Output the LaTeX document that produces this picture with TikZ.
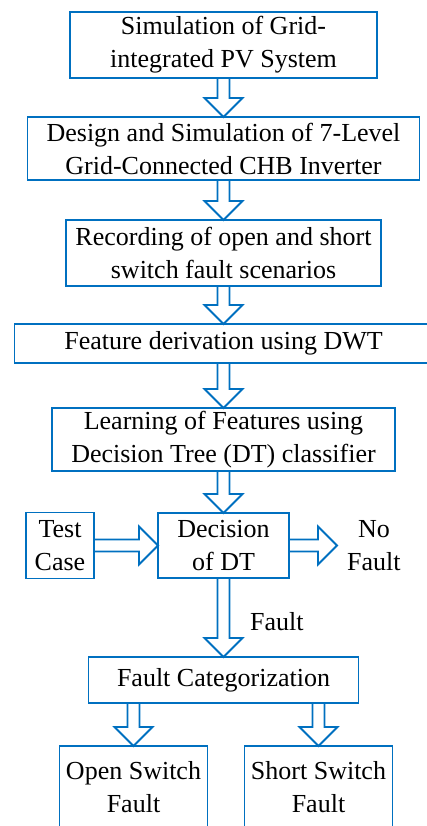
\documentclass[tikz,border=0pt]{standalone}
\usepackage{fontspec}
\setmainfont{Liberation Serif}
\usetikzlibrary{positioning,calc}
\definecolor{lineblue}{RGB}{0,112,192}

% hollow block arrows between two boxes
\newcommand{\downblock}[2]{%
  \draw[hollow] let \p1=(#1.south -| #2.north), \p2=(#2.north) in
    (\x1-6pt,\y1) -- (\x1-6pt,\y2+19pt) -- (\x1-19pt,\y2+19pt) -- (\x2,\y2)
    -- (\x1+19pt,\y2+19pt) -- (\x1+6pt,\y2+19pt) -- (\x1+6pt,\y1);}
\newcommand{\rightblock}[2]{%
  \draw[hollow] let \p1=(#1.east), \p2=(#2.west) in
    (\x1,\y1+6pt) -- (\x2-19pt,\y1+6pt) -- (\x2-19pt,\y1+19pt) -- (\x2,\y1)
    -- (\x2-19pt,\y1-19pt) -- (\x2-19pt,\y1-6pt) -- (\x1,\y1-6pt);}

\begin{document}
\begin{tikzpicture}[
    x=1pt, y=1pt,
    font=\fontsize{26pt}{33pt}\selectfont,
    block/.style={rectangle, draw=lineblue, line width=1.8pt, align=center, inner sep=2pt, outer sep=0pt},
    hollow/.style={draw=lineblue, line width=1.8pt, line join=miter},
    note/.style={align=center, inner sep=0pt}
]
    \useasboundingbox (0,0) rectangle (427,-826);

    \node[block, minimum width=307pt, minimum height=66pt] (sim) at (223.5,-45) {Simulation of Grid-\\integrated PV System};
    \node[block, minimum width=392pt, minimum height=63pt, below=39pt of sim] (design) {Design and Simulation of 7-Level\\Grid-Connected CHB Inverter};
    \node[block, minimum width=315pt, minimum height=66pt, below=40pt of design] (record) {Recording of open and short\\switch fault scenarios};
    \node[block, minimum width=418pt, minimum height=39pt, below=38pt of record] (dwt) {Feature derivation using DWT};
    \node[block, minimum width=343pt, minimum height=63pt, below=45pt of dwt] (learn) {Learning of Features using\\Decision Tree (DT) classifier};
    \node[block, minimum width=131pt, minimum height=65pt, below=42pt of learn] (dec) {Decision\\of DT};
    \node[block, minimum width=68pt, minimum height=66pt, left=64pt of dec] (test) {Test\\Case};
    \node[note, inner xsep=10pt, right=48pt of dec] (nofault) {No\\Fault};
    \node[block, minimum width=270pt, minimum height=46pt, below=79pt of dec] (cat) {Fault Categorization};
    \node[block, minimum width=148pt, minimum height=83pt, below=43pt of cat, xshift=-90pt] (open) {Open Switch\\Fault};
    \node[block, minimum width=148pt, minimum height=83pt, below=43pt of cat, xshift=95pt] (short) {Short Switch\\Fault};
    \node[note, anchor=west] (faultlbl) at ($(dec.south)!0.55!(cat.north)+(26.5,0)$) {Fault};

    \downblock{sim}{design}
    \downblock{design}{record}
    \downblock{record}{dwt}
    \downblock{dwt}{learn}
    \downblock{learn}{dec}
    \rightblock{test}{dec}
    \rightblock{dec}{nofault}
    \downblock{dec}{cat}
    \downblock{cat}{open}
    \downblock{cat}{short}
\end{tikzpicture}
\end{document}
